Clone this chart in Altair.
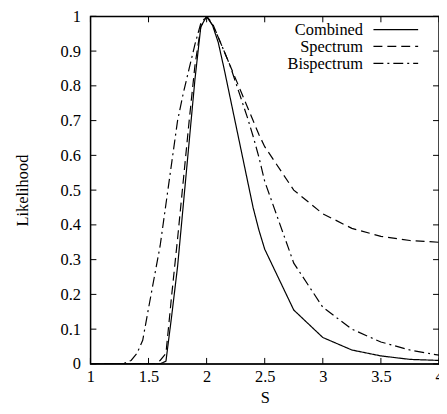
import altair as alt
import pandas as pd

series_names = ["Combined", "Spectrum", "Bispectrum"]

combined_s = [1.0, 1.25, 1.5, 1.6, 1.65, 1.7, 1.75, 1.8, 1.85, 1.9, 1.95, 2.0, 2.05, 2.1, 2.15, 2.2, 2.25, 2.3, 2.35, 2.4, 2.45, 2.5, 2.75, 3.0, 3.25, 3.5, 3.75, 4.0]
combined_v = [0.0, 0.0, 0.0, 0.0, 0.008, 0.14, 0.28, 0.46, 0.64, 0.82, 0.97, 1.0, 0.975, 0.925, 0.85, 0.77, 0.69, 0.61, 0.53, 0.45, 0.385, 0.33, 0.155, 0.076, 0.04, 0.023, 0.013, 0.01]

spectrum_s = [1.0, 1.25, 1.5, 1.55, 1.6, 1.65, 1.7, 1.75, 1.8, 1.85, 1.9, 1.95, 2.0, 2.05, 2.1, 2.15, 2.2, 2.25, 2.3, 2.35, 2.4, 2.45, 2.5, 2.75, 3.0, 3.25, 3.5, 3.75, 4.0]
spectrum_v = [0.0, 0.0, 0.0, 0.0, 0.01, 0.03, 0.2, 0.36, 0.53, 0.70, 0.86, 0.97, 1.0, 0.98, 0.94, 0.90, 0.86, 0.82, 0.78, 0.74, 0.70, 0.66, 0.625, 0.50, 0.432, 0.39, 0.367, 0.355, 0.35]

bispectrum_s = [1.0, 1.25, 1.3, 1.35, 1.4, 1.45, 1.5, 1.55, 1.6, 1.65, 1.7, 1.75, 1.8, 1.85, 1.9, 1.95, 2.0, 2.05, 2.1, 2.15, 2.2, 2.25, 2.3, 2.35, 2.4, 2.45, 2.5, 2.75, 3.0, 3.25, 3.5, 3.75, 4.0]
bispectrum_v = [0.0, 0.0, 0.003, 0.01, 0.03, 0.068, 0.16, 0.25, 0.34, 0.46, 0.58, 0.70, 0.78, 0.85, 0.92, 0.98, 1.0, 0.975, 0.94, 0.90, 0.86, 0.81, 0.76, 0.71, 0.655, 0.595, 0.525, 0.29, 0.163, 0.10, 0.063, 0.04, 0.025]

x_ticks = [1, 1.5, 2, 2.5, 3, 3.5, 4]
y_ticks = [0, 0.1, 0.2, 0.3, 0.4, 0.5, 0.6, 0.7, 0.8, 0.9, 1.0]

rows = []
for name, xs, vs in zip(series_names, [combined_s, spectrum_s, bispectrum_s],
                        [combined_v, spectrum_v, bispectrum_v]):
    for i, (s, v) in enumerate(zip(xs, vs)):
        rows.append({"series": name, "S": s, "L": v, "order": i})
df = pd.DataFrame(rows)

W, H = 351, 350
FONT = "Liberation Serif, Times New Roman, serif"
FS = 16.5
dash_range = [[1, 0], [9, 5], [10, 4, 2, 4]]

xscale = alt.Scale(domain=[1, 4], nice=False, zero=False)
yscale = alt.Scale(domain=[0, 1], nice=False)

x_axis = alt.Axis(values=x_ticks, tickSize=0, labelPadding=5, domain=False,
                  grid=False, labelFont=FONT, labelFontSize=FS, format="~g",
                  titleFont=FONT, titleFontSize=FS, titleFontWeight="normal",
                  titlePadding=4, labelColor="black", titleColor="black",
                  labelFlush=False)
y_axis = alt.Axis(values=y_ticks, tickSize=0, labelPadding=10, domain=False,
                  grid=False, labelFont=FONT, labelFontSize=FS, format="~g",
                  titleFont=FONT, titleFontSize=FS, titleFontWeight="normal",
                  titlePadding=30, labelColor="black", titleColor="black",
                  labelFlush=False)

lines = alt.Chart(df).mark_line(color="black", strokeWidth=1.2, clip=True).encode(
    x=alt.X("S:Q", scale=xscale, title="S", axis=x_axis),
    y=alt.Y("L:Q", scale=yscale, title="Likelihood", axis=y_axis),
    strokeDash=alt.StrokeDash("series:N", scale=alt.Scale(domain=series_names, range=dash_range),
                              legend=None),
    detail="series:N",
    order="order:Q",
)

xt = pd.DataFrame({"t": x_ticks})
yt = pd.DataFrame({"t": y_ticks})
TK = 6
xb = alt.Chart(xt).mark_rule(color="black", strokeWidth=1).encode(
    x=alt.X("t:Q", scale=xscale, title="S", axis=x_axis), y=alt.value(H), y2=alt.value(H - TK))
xtop = alt.Chart(xt).mark_rule(color="black", strokeWidth=1).encode(
    x=alt.X("t:Q", scale=xscale, title="S", axis=x_axis), y=alt.value(0), y2=alt.value(TK))
yl = alt.Chart(yt).mark_rule(color="black", strokeWidth=1).encode(
    y=alt.Y("t:Q", scale=yscale, title="Likelihood", axis=y_axis), x=alt.value(0), x2=alt.value(TK))
yr = alt.Chart(yt).mark_rule(color="black", strokeWidth=1).encode(
    y=alt.Y("t:Q", scale=yscale, title="Likelihood", axis=y_axis), x=alt.value(W), x2=alt.value(W - TK))

frame = alt.Chart(pd.DataFrame({"k": [0]})).mark_rect(
    fill=None, fillOpacity=0, stroke="black", strokeWidth=1.2).encode(
    x=alt.value(0), x2=alt.value(W), y=alt.value(0), y2=alt.value(H))

legend_layers = []
row_y = [13.3, 30.3, 47.3]
for name, dash, ry in zip(series_names, dash_range, row_y):
    ldf = pd.DataFrame({"series": [name]})
    legend_layers.append(
        alt.Chart(ldf).mark_text(align="right", baseline="middle", font=FONT,
                                 fontSize=FS, color="black").encode(
            text="series:N", x=alt.value(274.5), y=alt.value(ry + 1)))
    legend_layers.append(
        alt.Chart(ldf).mark_rule(color="black", strokeWidth=1.2, strokeDash=dash).encode(
            x=alt.value(285), x2=alt.value(330), y=alt.value(ry)))

chart = alt.layer(lines, xb, xtop, yl, yr, frame, *legend_layers).properties(
    width=W, height=H,
    autosize=alt.AutoSizeParams(type="none"),
    padding={"left": 83, "top": 7, "right": 0, "bottom": 41},
).configure_view(stroke="black", strokeWidth=1.2)

chart.save("out.html", embed_options={"renderer": "svg", "actions": False})
